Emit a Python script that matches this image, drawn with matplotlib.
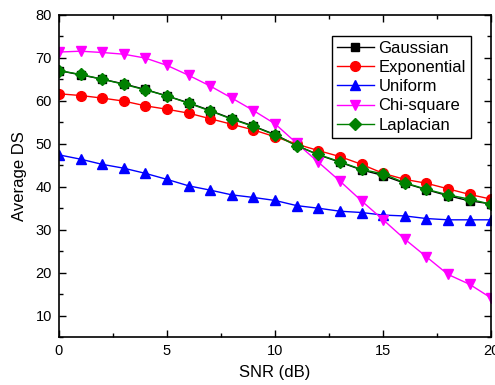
import matplotlib
matplotlib.use("Agg")
import matplotlib.pyplot as plt
from matplotlib.ticker import MultipleLocator

plt.rcParams['font.family'] = ['Liberation Sans', 'DejaVu Sans']

snr = list(range(21))
gaussian = [67.0, 66.0, 65.0, 63.9, 62.6, 61.1, 59.5, 57.7, 55.8, 54.1, 52.1,
            49.6, 47.4, 45.7, 43.9, 42.6, 40.8, 39.3, 37.9, 36.7, 36.0]
exponential = [61.6, 61.2, 60.6, 59.9, 58.8, 58.0, 57.1, 55.8, 54.5, 53.2, 51.6,
               49.9, 48.4, 47.0, 45.2, 43.1, 41.7, 40.8, 39.5, 38.2, 37.1]
uniform = [47.4, 46.4, 45.2, 44.3, 43.1, 41.7, 40.2, 39.2, 38.1, 37.5, 36.8,
           35.6, 35.0, 34.3, 34.0, 33.4, 33.2, 32.6, 32.3, 32.3, 32.3]
chi_square = [71.3, 71.5, 71.2, 70.8, 69.9, 68.2, 65.9, 63.4, 60.6, 57.7, 54.6,
              50.1, 45.7, 41.3, 36.7, 32.3, 27.8, 23.7, 19.6, 17.3, 14.1]
laplacian = [67.0, 66.1, 65.0, 63.8, 62.5, 61.1, 59.4, 57.6, 55.7, 54.0, 52.0,
             49.5, 47.5, 45.8, 44.0, 43.0, 40.9, 39.4, 38.1, 37.1, 35.9]

fig = plt.figure(figsize=(4.95, 3.85), dpi=100)
ax = fig.add_axes([0.119, 0.124, 0.8735, 0.838])

ms = 7
ax.plot(snr, gaussian, color='black', marker='s', ms=ms - 1, lw=1, label='Gaussian')
ax.plot(snr, exponential, color='red', marker='o', ms=ms, lw=1, label='Exponential')
ax.plot(snr, uniform, color='blue', marker='^', ms=ms, lw=1, label='Uniform')
ax.plot(snr, chi_square, color='#ff00ff', marker='v', ms=ms, lw=1, label='Chi-square')
ax.plot(snr, laplacian, color='green', marker='D', ms=ms - 1, lw=1, label='Laplacian')

ax.set_xlim(0, 20)
ax.set_ylim(5, 80)
ax.xaxis.set_major_locator(MultipleLocator(5))
ax.xaxis.set_minor_locator(MultipleLocator(2.5))
ax.yaxis.set_minor_locator(MultipleLocator(5))
ax.set_yticks(range(10, 81, 10))
ax.tick_params(which='both', direction='in', top=True, right=True, labelsize=10.5, width=1)
ax.tick_params(which='major', length=5, pad=5)
ax.tick_params(which='minor', length=3)
for s in ax.spines.values():
    s.set_linewidth(1.2)

ax.set_xlabel('SNR (dB)', fontsize=12, labelpad=5)
ax.set_ylabel('Average DS', fontsize=12, labelpad=6)

leg = ax.legend(loc='upper right', bbox_to_anchor=(0.953, 0.934), fontsize=12,
                frameon=True, fancybox=False, edgecolor='black', framealpha=1,
                handlelength=2.2, borderpad=0.3, labelspacing=0.25, handletextpad=0.3,
                borderaxespad=0)
leg.get_frame().set_linewidth(1)

fig.savefig('out.png', dpi=100)
